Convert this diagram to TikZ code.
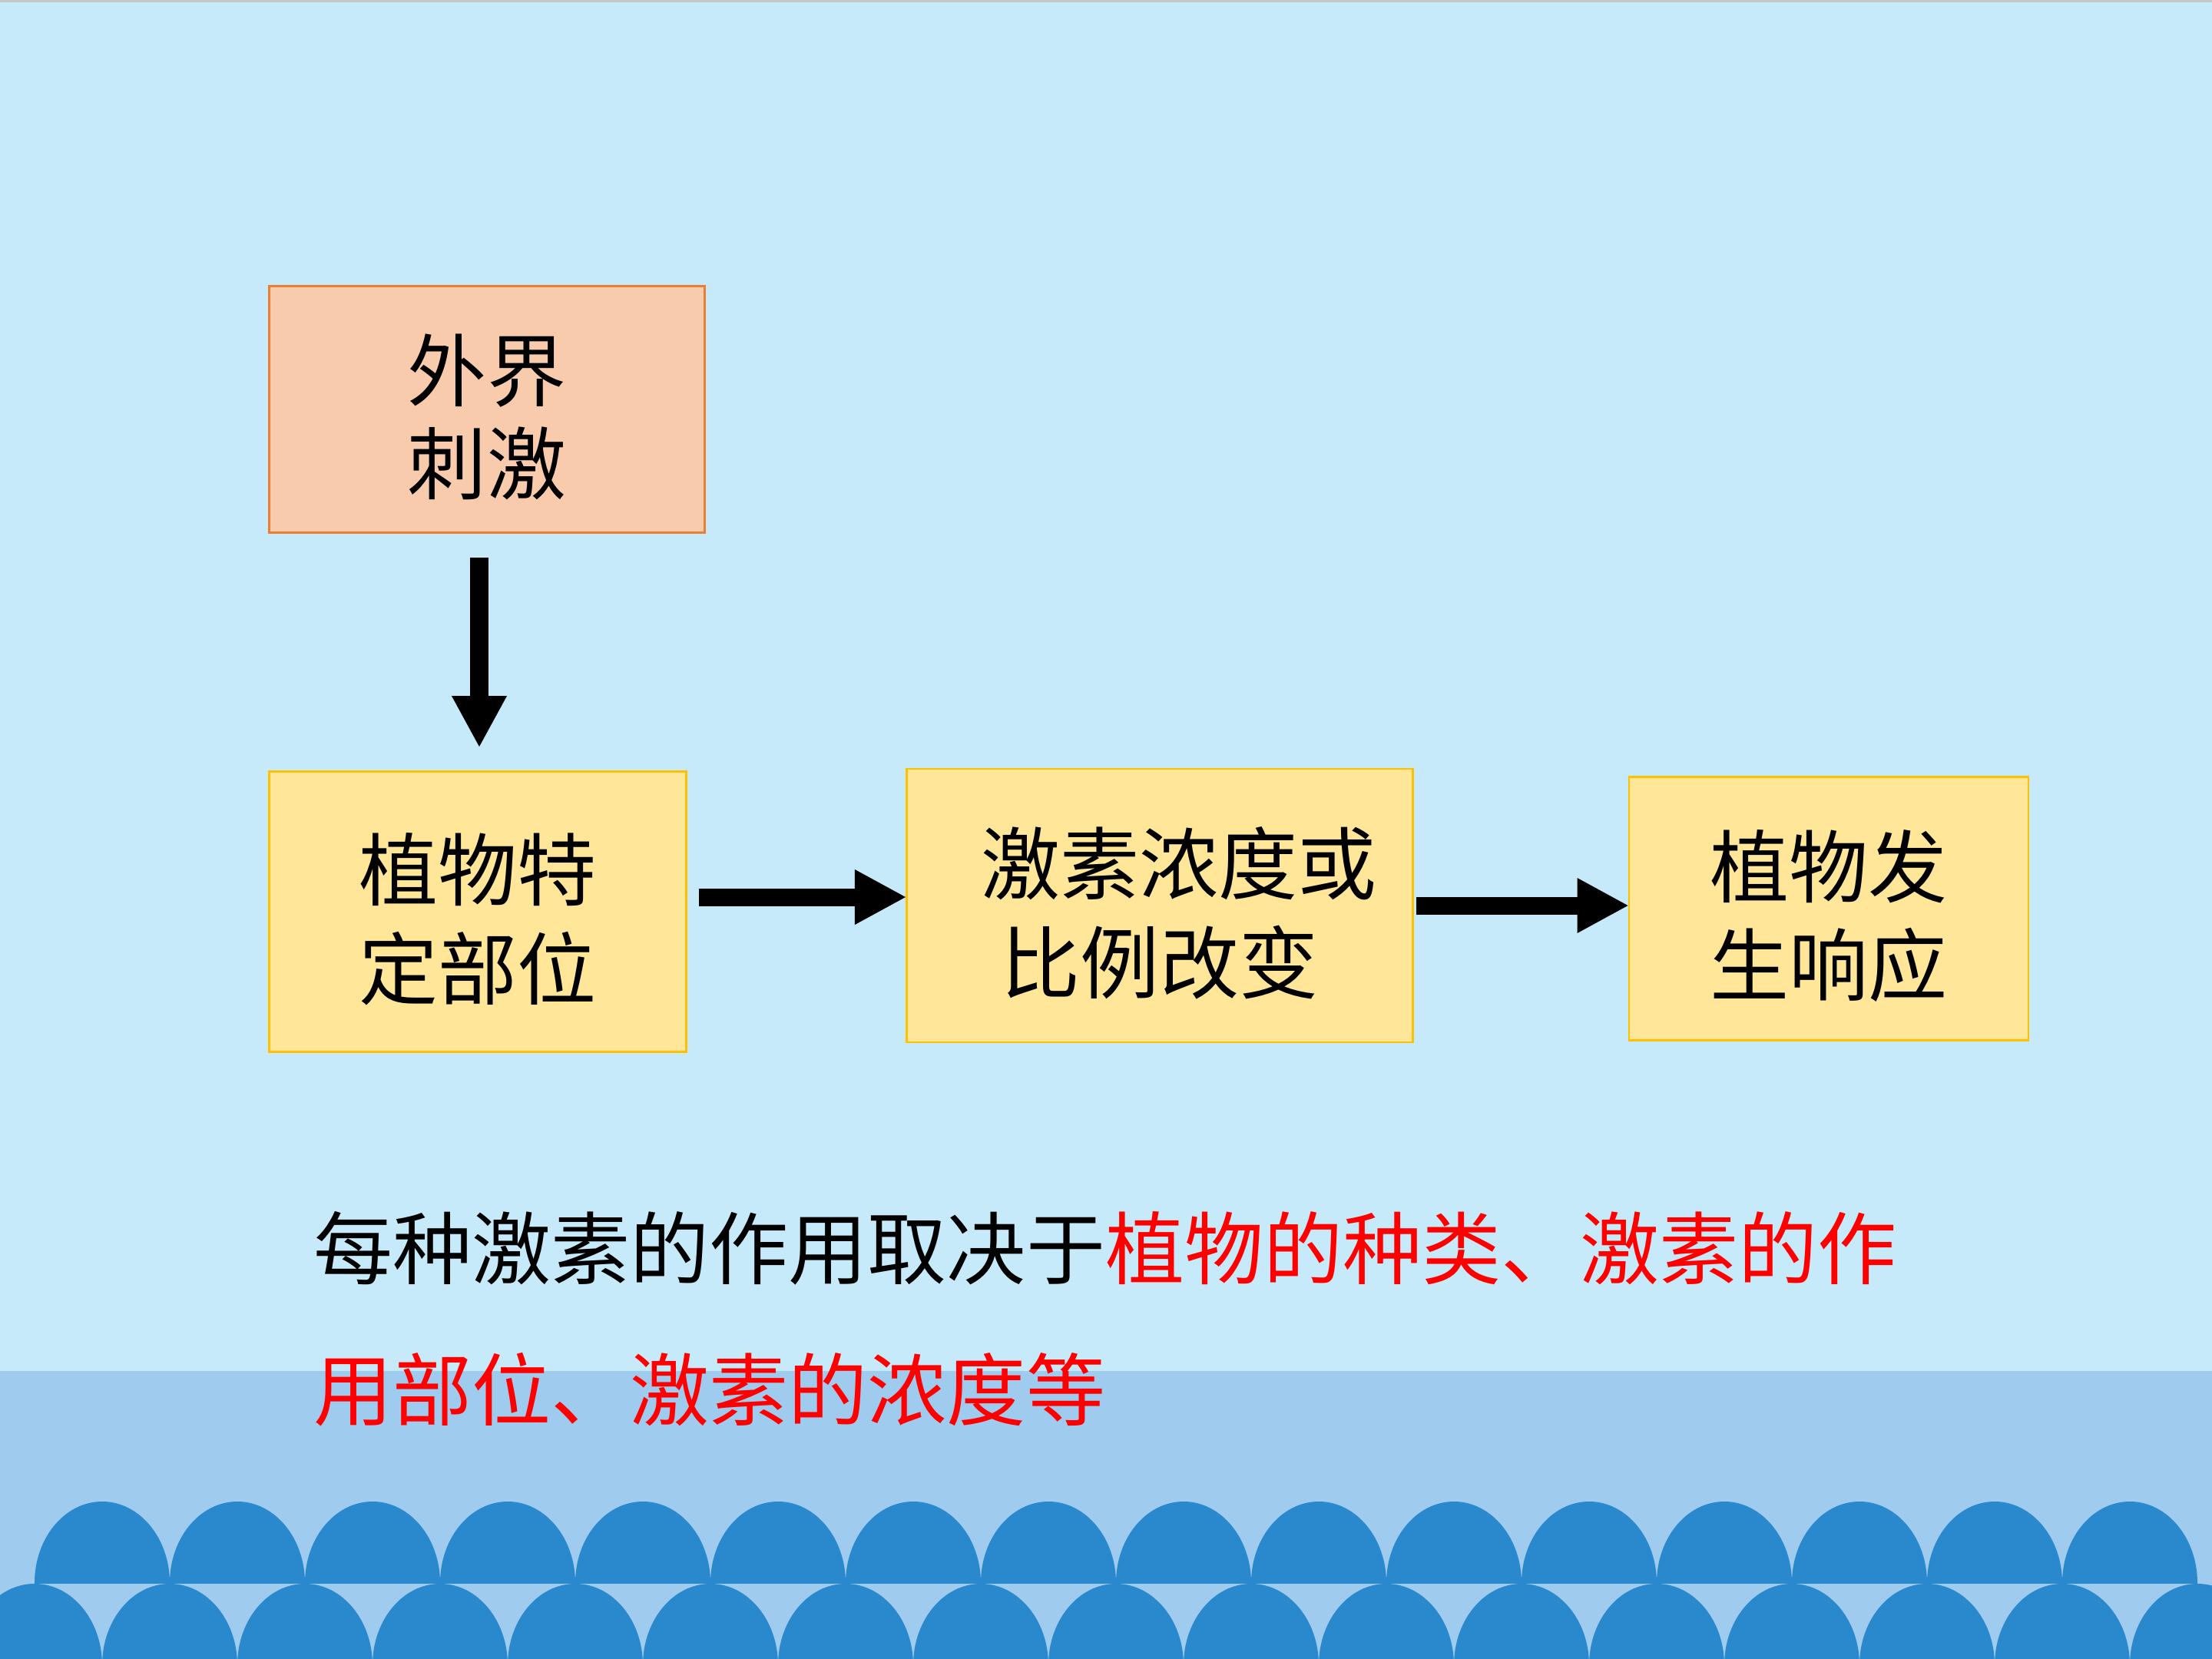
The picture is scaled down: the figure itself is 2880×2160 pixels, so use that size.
\documentclass[tikz,border=0pt]{standalone}
\usepackage{fontspec}
\setmainfont{Noto Sans CJK SC}
\usepackage{tikz}
\usepackage{xcolor}
\usetikzlibrary{arrows.meta}
\definecolor{sky}{HTML}{C7EAFB}
\definecolor{sea}{HTML}{9FCBEF}
\definecolor{wave}{HTML}{2A88CD}
\definecolor{peach}{HTML}{F8CBAD}
\definecolor{peachline}{HTML}{ED7D31}
\definecolor{butter}{HTML}{FFE699}
\definecolor{butterline}{HTML}{FFC000}
\newcommand{\boxfont}{\fontsize{29.3pt}{36.6pt}\selectfont}
\newcommand{\topstrut}{\rule{0pt}{1.03em}}
\tikzset{
    flow-box/.style = {draw=butterline, fill=butter, line width=0.75pt, rectangle, align=center, inner sep=0pt, font=\boxfont},
    stimulus-box/.style = {flow-box, draw=peachline, fill=peach, font=\fontsize{29.3pt}{34.4pt}\selectfont},
    flow-arrow/.style = {line width=0.23cm, -{Triangle[length=0.66cm, width=0.72cm, line width=0pt]}},
    wave-bump/.style = {fill=wave},
}
\begin{document}
\begin{tikzpicture}[x=0.01cm, y=-0.01cm]
\useasboundingbox (0,0) rectangle (2880,2160);
% background and sea
\fill[sky] (0,0) rectangle (2880,2160);
\fill[black!22] (0,0) rectangle (2880,3);
\fill[sea] (0,1785) rectangle (2880,2160);
% two rows of waves
\begin{scope}
\clip (0,0) rectangle (2880,2061);
\foreach \i in {0,...,15}
    \fill[wave-bump] (133+176*\i,2061) ellipse[x radius=88, y radius=106];
\end{scope}
\begin{scope}
\clip (0,0) rectangle (2880,2160);
\foreach \i in {0,...,16}
    \fill[wave-bump] (45+176*\i,2168) ellipse[x radius=88, y radius=106];
\end{scope}

\node[stimulus-box, minimum width=5.67cm, minimum height=3.21cm] (stimulus) at (634,533) {\topstrut 外界\\刺激};
\node[flow-box, minimum width=5.43cm, minimum height=3.65cm] (site) at (622,1187) {\topstrut 植物特\\定部位};
\node[flow-box, minimum width=6.59cm, minimum height=3.56cm] (hormone) at (1510,1179) {\topstrut\hspace*{0.5cm}激素浓度或\\比例改变};
\node[flow-box, minimum width=5.20cm, minimum height=3.43cm] (response) at (2381,1183) {\topstrut 植物发\\生响应};

\draw[flow-arrow] ([shift={(-10,31)}]stimulus.south) -- ([shift={(2,-31)}]site.north);
\draw[flow-arrow] ([shift={(15,-19)}]site.east) -- ([shift={(0,-11)}]hormone.west);
\draw[flow-arrow] ([shift={(3,0)}]hormone.east) -- ([shift={(0,-4)}]response.west);

\node[anchor=west, align=left, inner sep=0pt, font=\fontsize{29.3pt}{52.4pt}\selectfont] (summary) at (408,1717)
    {每种激素的作用取决于\textcolor{red}{植物的种类、激素的作}\\\textcolor{red}{用部位、激素的浓度等}};
\end{tikzpicture}
\end{document}
